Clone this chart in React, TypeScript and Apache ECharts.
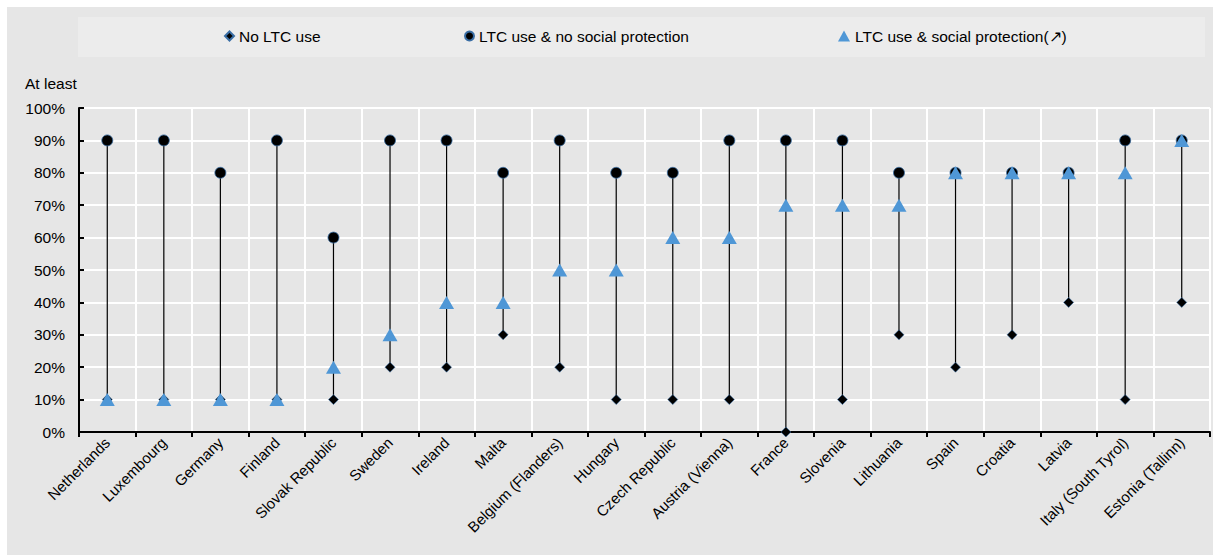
import React, { useEffect, useRef } from "react";
import * as echarts from "echarts";

const categories = [
  "Netherlands", "Luxembourg", "Germany", "Finland", "Slovak Republic", "Sweden", "Ireland", "Malta",
  "Belgium (Flanders)", "Hungary", "Czech Republic", "Austria (Vienna)", "France", "Slovenia", "Lithuania",
  "Spain", "Croatia", "Latvia", "Italy (South Tyrol)", "Estonia (Tallinn)",
];
const noLtcUse = [10, 10, 10, 10, 10, 20, 20, 30, 20, 10, 10, 10, 0, 10, 30, 20, 30, 40, 10, 40];
const ltcNoProtection = [90, 90, 80, 90, 60, 90, 90, 80, 90, 80, 80, 90, 90, 90, 80, 80, 80, 80, 90, 90];
const ltcProtection = [10, 10, 10, 10, 20, 30, 40, 40, 50, 50, 60, 60, 70, 70, 70, 80, 80, 80, 80, 90];
const yTicks = { min: 0, max: 100, interval: 10 };

const FONT = "'Liberation Sans Narrow', 'Arial Narrow', 'Liberation Sans', Arial, sans-serif";
const BLUE = "#4f97d6";

export default function App() {
  const ref = useRef<HTMLDivElement>(null);
  useEffect(() => {
    if (!ref.current) return;
    const chart = echarts.init(ref.current, undefined, { renderer: "svg" });
    const ranges = categories.map((_, i) => {
      const vals = [noLtcUse[i], ltcNoProtection[i], ltcProtection[i]];
      return [i, Math.min(...vals), Math.max(...vals)];
    });
    const legendText = { color: "#000", fontSize: 15.5, fontFamily: FONT };
    chart.setOption({
      animation: false,
      textStyle: { fontFamily: FONT },
      graphic: [
        { type: "rect", z: -10, shape: { x: 7, y: 7, width: 1206, height: 548 }, style: { fill: "#e6e6e6" }, silent: true },
        { type: "rect", z: -9, shape: { x: 78, y: 17, width: 1127, height: 40 }, style: { fill: "#ececec" }, silent: true },
        { type: "text", left: 25, top: 75, style: { text: "At least", fontSize: 15.5, fontFamily: FONT, fill: "#000" } },
      ],
      legend: [
        { left: 224, top: 28, data: [{ name: "No LTC use", icon: "diamond" }], itemWidth: 9, itemHeight: 9, itemGap: 0, textStyle: legendText, padding: 0 },
        { left: 464, top: 28, data: [{ name: "LTC use & no social protection", icon: "circle" }], itemWidth: 9, itemHeight: 9, textStyle: legendText, padding: 0 },
        { left: 838, top: 28, data: [{ name: "LTC use & social protection(\u2197)", icon: "triangle" }], itemWidth: 12, itemHeight: 11, textStyle: legendText, padding: 0 },
      ],
      grid: { left: 79, right: 3, top: 108, bottom: 123, containLabel: false },
      xAxis: {
        type: "category",
        data: categories,
        boundaryGap: true,
        axisLine: { lineStyle: { color: "#000", width: 2 } },
        axisTick: { show: true, length: 5, lineStyle: { color: "#000", width: 2 } },
        splitLine: { show: true, lineStyle: { color: "#fff", width: 2 } },
        axisLabel: { rotate: 45, fontSize: 15, color: "#000", interval: 0, margin: 8, fontFamily: FONT },
      },
      yAxis: {
        type: "value",
        min: yTicks.min,
        max: yTicks.max,
        interval: yTicks.interval,
        axisLine: { show: true, lineStyle: { color: "#000", width: 2 } },
        axisTick: { show: true, inside: true, length: 5, lineStyle: { color: "#000", width: 2 } },
        splitLine: { show: true, lineStyle: { color: "#fff", width: 2 } },
        axisLabel: { formatter: "{value}%", fontSize: 15.5, color: "#000", margin: 14, fontFamily: FONT },
      },
      series: [
        {
          type: "custom",
          name: "range",
          data: ranges,
          z: 1,
          renderItem: (params: any, api: any) => {
            const p1 = api.coord([api.value(0), api.value(1)]);
            const p2 = api.coord([api.value(0), api.value(2)]);
            return {
              type: "line",
              shape: { x1: p1[0], y1: p1[1], x2: p2[0], y2: p2[1] },
              style: { stroke: "#000", lineWidth: 1.2 },
            };
          },
        },
        {
          type: "scatter",
          name: "No LTC use",
          data: noLtcUse,
          symbol: "diamond",
          symbolSize: 10,
          z: 2,
          itemStyle: { color: "#000", borderColor: "#3a6ea5", borderWidth: 0.6, opacity: 1 },
        },
        {
          type: "scatter",
          name: "LTC use & no social protection",
          data: ltcNoProtection,
          symbol: "circle",
          symbolSize: 11,
          z: 3,
          itemStyle: { color: "#000", borderColor: "#3a6ea5", borderWidth: 0.8, opacity: 1 },
        },
        {
          type: "scatter",
          name: "LTC use & social protection(\u2197)",
          data: ltcProtection,
          symbol: "triangle",
          symbolSize: [15, 13],
          z: 4,
          itemStyle: { color: BLUE, opacity: 1 },
        },
      ],
    });
    return () => chart.dispose();
  }, []);
  return <div ref={ref} style={{ position: "absolute", left: 0, top: 0, width: 1213, height: 555 }} />;
}
